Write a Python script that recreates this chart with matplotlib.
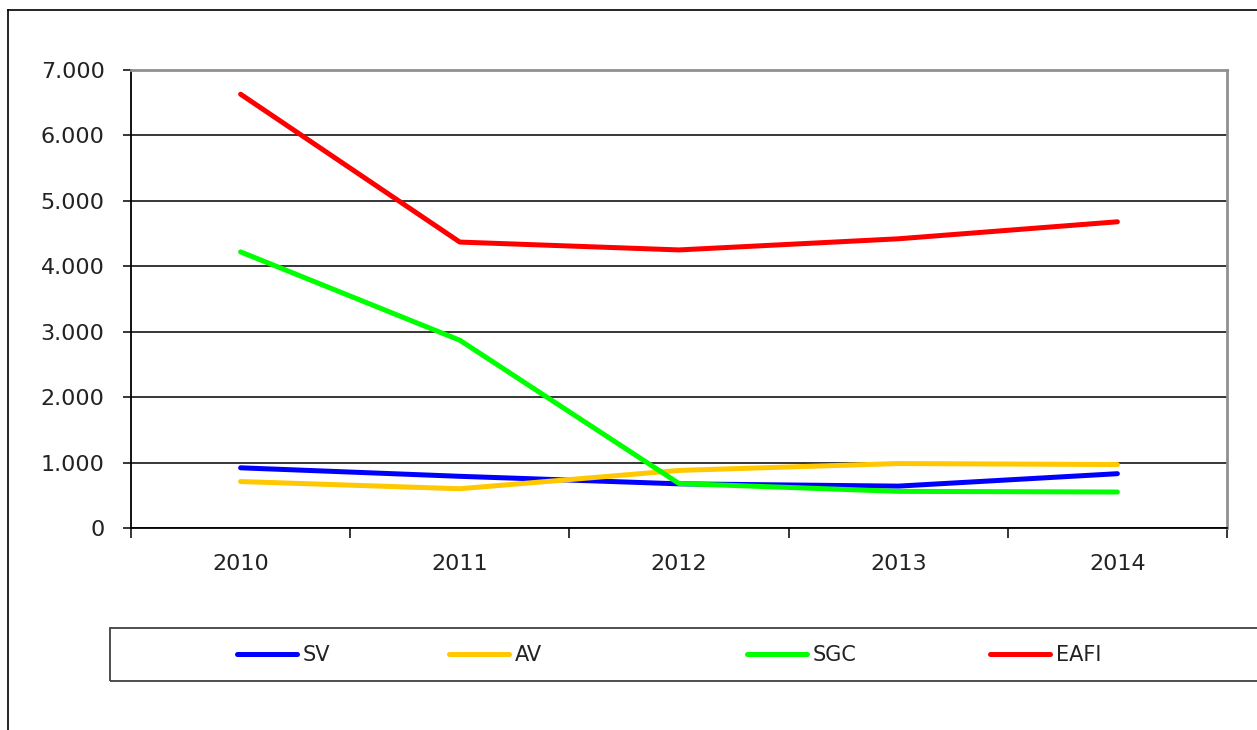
import matplotlib.pyplot as plt
from matplotlib.lines import Line2D
from matplotlib.patches import Rectangle
from matplotlib.ticker import FixedLocator, FuncFormatter

years = ["2010", "2011", "2012", "2013", "2014"]
sv = [920, 790, 675, 640, 830]
av = [710, 600, 880, 985, 970]
sgc = [4220, 2870, 680, 560, 550]
eafi = [6630, 4370, 4250, 4420, 4680]

series = [("SV", sv, "#0000ff"), ("AV", av, "#ffc800"),
          ("SGC", sgc, "#00ff00"), ("EAFI", eafi, "#ff0000")]

fig = plt.figure(figsize=(12.57, 7.30), dpi=100)
ax = fig.add_axes([131 / 1257, 1 - 528 / 730, (1227 - 131) / 1257, (528 - 70) / 730])

x = range(len(years))
lines = []
for name, vals, color in series:
    ln, = ax.plot(x, vals, color=color, lw=3.6, solid_capstyle="round",
                  solid_joinstyle="round", label=name, zorder=3)
    lines.append(ln)

ax.set_xlim(-0.5, len(years) - 0.5)
ax.set_ylim(0, 7000)
ax.set_yticks(range(0, 7001, 1000))
ax.yaxis.set_major_formatter(FuncFormatter(lambda v, p: f"{v:,.0f}".replace(",", ".")))
ax.yaxis.grid(True, color="black", lw=1.1)
ax.set_axisbelow(True)

ax.xaxis.set_major_locator(FixedLocator([i - 0.5 for i in range(len(years) + 1)]))
ax.xaxis.set_major_formatter(FuncFormatter(lambda v, p: ""))
ax.xaxis.set_minor_locator(FixedLocator(list(x)))
ax.set_xticklabels(years, minor=True)
ax.tick_params(axis="x", which="major", direction="out", length=7, width=1.1, color="black")
ax.tick_params(axis="x", which="minor", length=0, pad=19, labelsize=16, labelcolor="#222222")
ax.tick_params(axis="y", direction="out", length=6, width=1.1, pad=13, labelsize=16,
               labelcolor="#222222")

for side in ["left", "bottom"]:
    ax.spines[side].set_color("black")
    ax.spines[side].set_linewidth(1.3)
for side in ["top", "right"]:
    ax.spines[side].set_color("#909090")
    ax.spines[side].set_linewidth(2)

# outer chart frame (only left and top edges visible in the picture)
fig.add_artist(Line2D([8 / 1257, 8 / 1257], [0, 1 - 10 / 730], color="black", lw=1.2))
fig.add_artist(Line2D([8 / 1257, 1], [1 - 10 / 730, 1 - 10 / 730], color="black", lw=1.2))

# legend box
fig.add_artist(Rectangle((110 / 1257, 1 - 681 / 730), 1.2, 53 / 730, fill=False,
                         edgecolor="#404040", lw=1.3, transform=fig.transFigure))

starts = [237, 449, 747, 990]
for ln, xs in zip(lines, starts):
    fig.legend(handles=[ln], loc="center left", bbox_to_anchor=(xs / 1257, 1 - 655 / 730),
               frameon=False, fontsize=15, handlelength=2.9, handletextpad=0.25,
               borderpad=0, borderaxespad=0, labelcolor="#222222")

fig.savefig("out.png", dpi=100)
